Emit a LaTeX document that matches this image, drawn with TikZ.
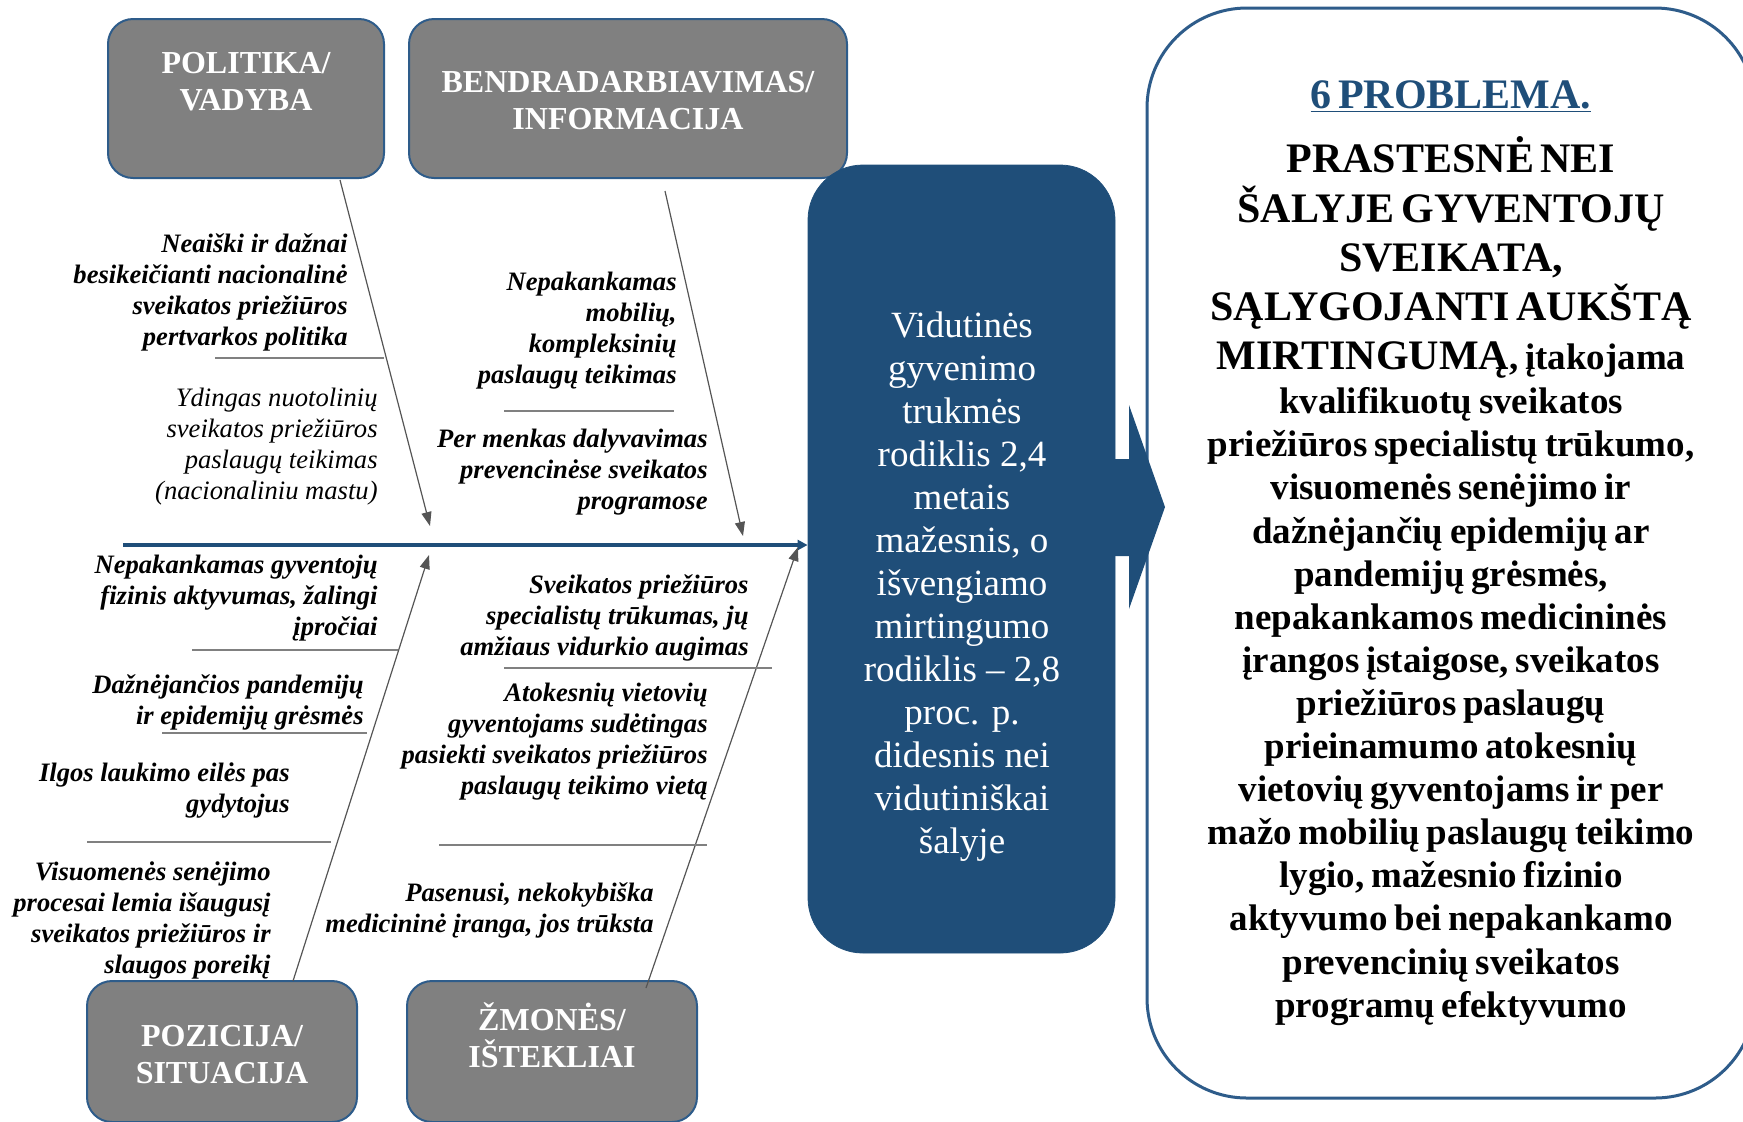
\documentclass[tikz,border=0pt]{standalone}
\usepackage{fontspec}
\setmainfont{Liberation Serif}
\usetikzlibrary{arrows.meta}
\definecolor{navy}{HTML}{1F4E79}
\definecolor{navyline}{HTML}{2E5C8A}
\definecolor{boxgray}{HTML}{808080}
\definecolor{arrgray}{HTML}{555555}
\definecolor{linegray}{HTML}{808080}
\begin{document}
\begin{tikzpicture}[x=0.5pt,y=-0.5pt,
  catbox/.style={draw=navyline, line width=1pt, fill=boxgray, rounded corners=12.5pt, inner sep=0},
  catlbl/.style={text=white, font=\fontsize{16}{18.5}\selectfont\bfseries, align=center, inner sep=0},
  cause/.style={font=\fontsize{13.3}{15.5}\selectfont\bfseries\itshape, align=right, inner sep=0, anchor=east, yshift=-1.5pt},
  causeplain/.style={font=\fontsize{13.3}{15.5}\selectfont\itshape, align=right, inner sep=0, anchor=east, yshift=-1.5pt},
  bone/.style={draw=arrgray, line width=0.6pt, -{Triangle[length=7pt,width=5pt]}},
  subline/.style={draw=linegray, line width=0.8pt},
]
\useasboundingbox (0,0) rectangle (1743,1121);

% category boxes
\node[catbox, minimum width=138pt, minimum height=79.5pt] (pol) at (246,98.5) {};
\node[catlbl] (pollbl) at (246,82) {POLITIKA/\\VADYBA};
\node[catbox, minimum width=219pt, minimum height=79.5pt] (ben) at (628,98.5) {};
\node[catlbl] (benlbl) at (628,101) {BENDRADARBIAVIMAS/\\INFORMACIJA};
\node[catbox, minimum width=135pt, minimum height=70.5pt] (poz) at (222,1051.5) {};
\node[catlbl] (pozlbl) at (222,1054.5) {POZICIJA/\\SITUACIJA};
\node[catbox, minimum width=145pt, minimum height=70.5pt] (zmo) at (552,1051.5) {};
\node[catlbl] (zmolbl) at (552,1035) {ŽMONĖS/\\IŠTEKLIAI};

% central effect box
\node[fill=navy, draw=navy, rounded corners=27.5pt, minimum width=153.5pt, minimum height=394pt, inner sep=0] (cent) at (961.5,559) {};
\node[text=white, font=\fontsize{18.5}{21.5}\selectfont, align=center, inner sep=0] (centtxt) at (962,587)
 {Vidutinės\\gyvenimo\\trukmės\\rodiklis 2,4\\metais\\mažesnis, o\\išvengiamo\\mirtingumo\\rodiklis – 2,8\\proc. p.\\didesnis nei\\vidutiniškai\\šalyje};

% problem box
\node[draw=navyline, line width=1.5pt, rounded corners=50pt, minimum width=304pt, minimum height=545pt,
      text width=290pt, align=center, inner sep=0, font=\bfseries] (prob) at (1451,553)
 {{\color{navy}\fontsize{21}{24.6}\selectfont\underline{6 PROBLEMA.}\par}\vspace{7.6pt}
  {\fontsize{21}{24.6}\selectfont PRASTESNĖ NEI\\ŠALYJE GYVENTOJŲ\\SVEIKATA,\\SĄLYGOJANTI AUKŠTĄ\\MIRTINGUMĄ{\fontsize{18.5}{21.55}\selectfont, įtakojama}\par}\vspace{0.5pt}
  {\fontsize{18.5}{21.55}\selectfont kvalifikuotų sveikatos\\priežiūros specialistų trūkumo,\\visuomenės senėjimo ir\\dažnėjančių epidemijų ar\\pandemijų grėsmės,\\nepakankamos medicininės\\įrangos įstaigose, sveikatos\\priežiūros paslaugų\\prieinamumo atokesnių\\vietovių gyventojams ir per\\mažo mobilių paslaugų teikimo\\lygio, mažesnio fizinio\\aktyvumo bei nepakankamo\\prevencinių sveikatos\\programų efektyvumo\par}};

% big chevron arrow
\fill[navy] (1115,459) -- (1129,459) -- (1129,405) -- (1165,507) -- (1129,609) -- (1129,556) -- (1115,556) -- cycle;

% spine
\coordinate (sp) at (123,545);
\draw[navy, line width=1.7pt, -{Triangle[length=5pt,width=5pt]}] (sp) -- (sp -| cent.west);

% bones
\coordinate (b1s) at (340,180); \coordinate (b1e) at (430,526);
\coordinate (b2s) at (665,191); \coordinate (b2e) at (743,536);
\coordinate (b3s) at (293,981); \coordinate (b3e) at (429,555);
\coordinate (b4s) at (646,988); \coordinate (b4e) at (798,547);
\draw[bone] (b1s) -- (b1e);
\draw[bone] (b2s) -- (b2e);
\draw[bone] (b3s) -- (b3e);
\draw[bone] (b4s) -- (b4e);

% sub lines
\draw[subline] (215,358) -- (384,358);
\draw[subline] (504,411) -- (674,411);
\draw[subline] (192,650) -- (398,650);
\draw[subline] (162,733) -- (367,733);
\draw[subline] (87,842) -- (331,842);
\draw[subline] (504,668) -- (772,668);
\draw[subline] (439,845) -- (707,845);

% causes
\node[cause] (c1) at (348,289) {Neaiški ir dažnai\\besikeičianti nacionalinė\\sveikatos priežiūros\\pertvarkos politika};
\node[causeplain] (c2) at (378,444) {Ydingas nuotolinių\\sveikatos priežiūros\\paslaugų teikimas\\(nacionaliniu mastu)};
\node[cause] (c3) at (677,327.5) {Nepakankamas\\mobilių,\\kompleksinių\\paslaugų teikimas};
\node[cause] (c4) at (708,469) {Per menkas dalyvavimas\\prevencinėse sveikatos\\programose};
\node[cause] (c5) at (378,595) {Nepakankamas gyventojų\\fizinis aktyvumas, žalingi\\įpročiai};
\node[cause] (c6) at (364,699.5) {Dažnėjančios pandemijų\\ir epidemijų grėsmės};
\node[cause] (c7) at (290,787) {Ilgos laukimo eilės pas\\gydytojus};
\node[cause] (c8) at (271,917) {Visuomenės senėjimo\\procesai lemia išaugusį\\sveikatos priežiūros ir\\slaugos poreikį};
\node[cause] (c9) at (749,614.5) {Sveikatos priežiūros\\specialistų trūkumas, jų\\amžiaus vidurkio augimas};
\node[cause] (c10) at (708,739) {Atokesnių vietovių\\gyventojams sudėtingas\\pasiekti sveikatos priežiūros\\paslaugų teikimo vietą};
\node[cause] (c11) at (654,907.5) {Pasenusi, nekokybiška\\medicininė įranga, jos trūksta};
\end{tikzpicture}
\end{document}
